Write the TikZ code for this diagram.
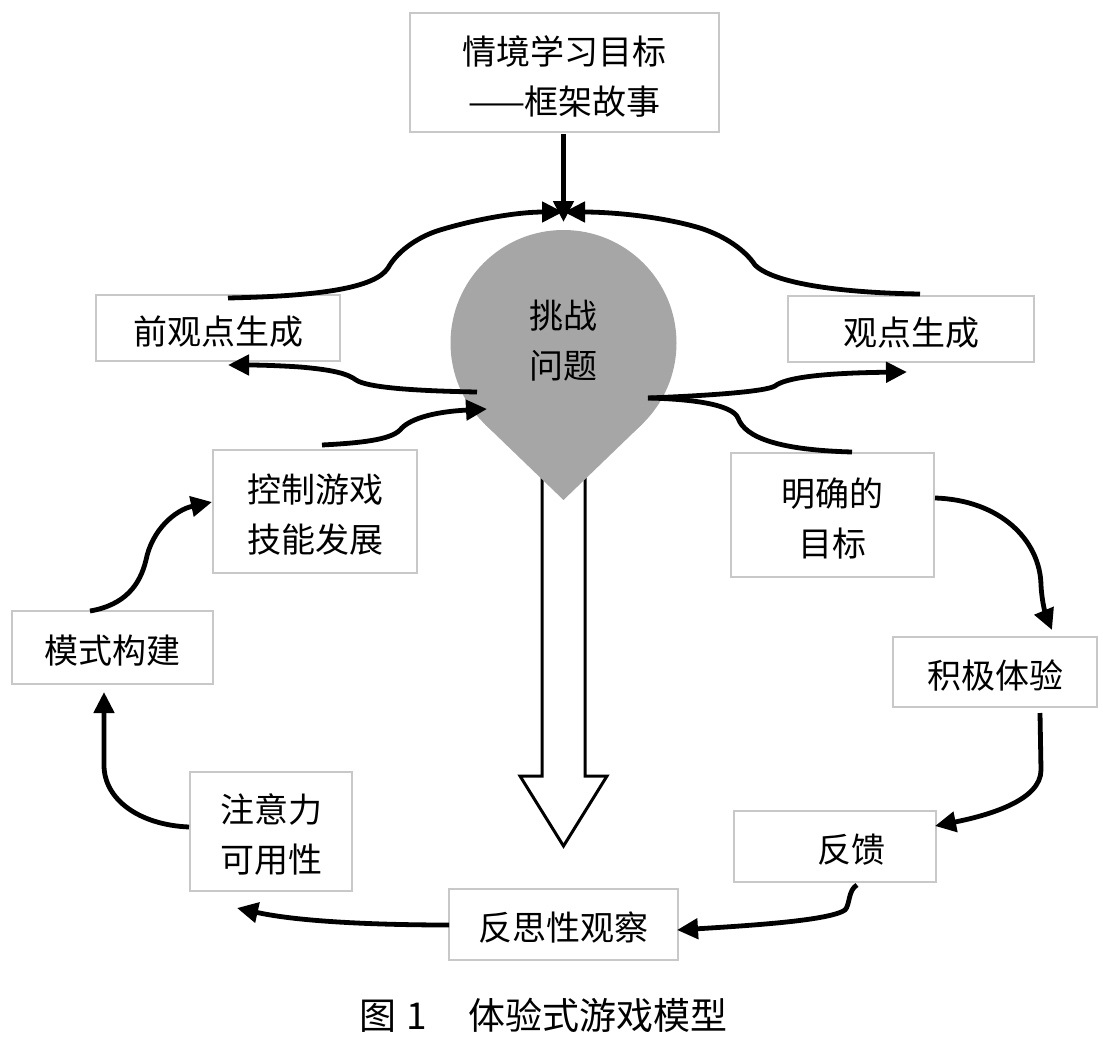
\documentclass[tikz,border=0pt]{standalone}
\usepackage{fontspec}
\setmainfont{Noto Sans CJK SC}
\usetikzlibrary{arrows.meta}
\definecolor{dropgray}{HTML}{A6A6A6}
\definecolor{boxgray}{HTML}{C8C8C8}
\newcommand{\lowtxt}[1]{\raisebox{-3.5pt}[\height][\depth]{#1}}
\begin{document}
\begin{tikzpicture}[x=1pt,y=-1pt,
  box/.style={draw=boxgray, line width=1.6pt, inner sep=0pt, align=center, font=\fontsize{34}{50}\selectfont},
  conn/.style={line width=4.8pt, draw=black},
  arr/.style={-{Triangle[length=21pt,width=20pt]}},
  hollow/.style={draw=black, line width=3pt, fill=white, line join=miter},
]
\fill[white] (0,0) rectangle (1103,1044);
\useasboundingbox (0,0) rectangle (1103,1044);

% hollow arrow
\draw[hollow] (542,460) -- (542,776) -- (520,776) -- (563.5,846) -- (607,776) -- (585,776) -- (585,460) -- cycle;

% drop
\fill[dropgray] (563.5,500) -- (485,424.3) -- (563.5,343) -- (642,424.3) -- cycle;
\node[circle, fill=dropgray, minimum size=226pt, inner sep=0pt, align=center,
      font=\fontsize{34}{50}\selectfont] (drop) at (563.5,343) {\raisebox{2pt}[\height][\depth]{挑战}\\\raisebox{2pt}[\height][\depth]{问题}};

% boxes
\node[box, minimum width=309, minimum height=119] (goal) at (564.5,72.5) {\lowtxt{情境学习目标}\\\lowtxt{——框架故事}};
\node[box, minimum width=244, minimum height=66] (pre) at (218,328) {\lowtxt{前观点生成}};
\node[box, minimum width=246, minimum height=66] (view) at (911,329) {\lowtxt{观点生成}};
\node[box, minimum width=204, minimum height=123] (ctrl) at (315,511.5) {\lowtxt{控制游戏}\\\lowtxt{技能发展}};
\node[box, minimum width=203, minimum height=124] (clear) at (832.5,515) {\lowtxt{明确的}\\\lowtxt{目标}};
\node[box, minimum width=201, minimum height=73] (pattern) at (112.5,647.5) {\lowtxt{模式构建}};
\node[box, minimum width=204, minimum height=70] (active) at (995,672) {\lowtxt{积极体验}};
\node[box, minimum width=162, minimum height=119] (attn) at (271,831.5) {\lowtxt{注意力}\\\lowtxt{可用性}};
\node[box, minimum width=202, minimum height=71] (fb) at (835,846.5) {\hspace*{32pt}\lowtxt{反馈}};
\node[box, minimum width=229, minimum height=71] (refl) at (563.5,924.5) {\lowtxt{反思性观察}};

\node[anchor=west, font=\fontsize{37}{40}\selectfont, inner sep=0pt] (cap) at (359,1015) {图\hspace{10pt}1\hspace{42pt}体验式游戏模型};

% connector end points
\coordinate (goalB) at (563.5,134);
\coordinate (meetV) at (563.5,222);
\coordinate (meetL) at (563,212);
\coordinate (meetR) at (564,212);
\coordinate (preTop) at (228,298);
\coordinate (viewTop) at (920,294);
\coordinate (dL) at (477,392);
\coordinate (preArr) at (228,365);
\coordinate (ctrlTop) at (322,445);
\coordinate (dIn) at (487,409);
\coordinate (dR) at (648,398);
\coordinate (viewArr) at (907,372);
\coordinate (clearTop) at (852,452);
\coordinate (clearR) at (935,498);
\coordinate (activeArr) at (1052,630);
\coordinate (activeB) at (1040,713);
\coordinate (fbArr) at (935,826);
\coordinate (fbB) at (857,885);
\coordinate (reflArr) at (677,930);
\coordinate (reflL) at (449,925);
\coordinate (attnArr) at (237,908);
\coordinate (attnL) at (189,827);
\coordinate (patArr) at (104,692);
\coordinate (patTop) at (90,611);
\coordinate (ctrlArr) at (212,502);

% connectors
\draw[conn,arr] (goalB) -- (meetV);
\draw[conn,arr] (preTop) .. controls (320,296) and (375,288) .. (388,268)
   .. controls (398,250) and (420,236) .. (440,230)
   .. controls (480,218) and (520,212) .. (meetL);
\draw[conn,arr] (viewTop) .. controls (850,293) and (775,285) .. (755,265)
   .. controls (745,250) and (725,236) .. (700,228)
   .. controls (660,216) and (610,212) .. (meetR);
\draw[conn,arr] (dL) .. controls (420,391) and (368,388) .. (356,380)
   .. controls (348,374) and (335,370) .. (300,367)
   .. controls (270,365) and (250,365) .. (preArr);
\draw[conn,arr] (ctrlTop) .. controls (360,443) and (390,440) .. (400,430)
   .. controls (408,420) and (430,412) .. (dIn);
\draw[conn,arr] (dR) .. controls (700,396) and (765,392) .. (775,386)
   .. controls (785,378) and (820,373) .. (viewArr);
\draw[conn] (dR) .. controls (690,399) and (732,404) .. (738,418)
   .. controls (745,438) and (780,450) .. (clearTop);
\draw[conn,arr] (clearR) .. controls (1000,500) and (1040,540) .. (1041,585)
   .. controls (1042,605) and (1047,618) .. (activeArr);
\draw[conn,arr] (activeB) -- (1041,770) .. controls (1041,800) and (990,815) .. (fbArr);
\draw[conn,arr] (fbB) .. controls (848,890) and (850,905) .. (845,910)
   .. controls (830,920) and (760,925) .. (reflArr);
\draw[conn,arr] (reflL) .. controls (380,925) and (300,922) .. (attnArr);
\draw[conn,arr] (attnL) .. controls (140,825) and (104,800) .. (104,765) -- (patArr);
\draw[conn,arr] (patTop) .. controls (125,605) and (140,585) .. (146,560)
   .. controls (152,530) and (175,510) .. (ctrlArr);
\end{tikzpicture}
\end{document}
